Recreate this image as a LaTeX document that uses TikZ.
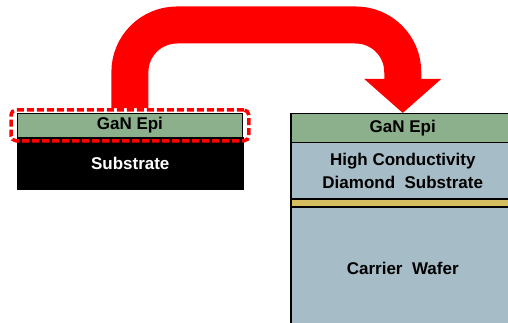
\documentclass[tikz,border=0pt]{standalone}
\usepackage{fontspec}
\setmainfont{Liberation Sans}
\usetikzlibrary{arrows.meta,positioning,fit}
\definecolor{epigreen}{RGB}{140,176,140}
\definecolor{diamondblue}{RGB}{166,188,198}
\definecolor{bondgold}{RGB}{212,190,96}

\begin{document}
\begin{tikzpicture}[
    x=1pt, y=-1pt,
    layer/.style = {rectangle, draw=black, line width=1.5pt, inner sep=0pt, anchor=north west, align=center, font=\fontsize{17}{23}\selectfont\bfseries},
    dashbox/.style = {draw=red, line width=3.5pt, dash pattern=on 7pt off 3pt, rounded corners=5pt, inner xsep=6pt, inner ysep=3pt},
    bigarrow/.style = {draw=red, line width=37pt, rounded corners=47pt, -{Triangle[width=75pt,length=34pt]}}
]
    \useasboundingbox (0,0) rectangle (508,323);
    \clip (0,0) rectangle (508,323);

    % Nodes
    \node [layer, fill=black, text=white, minimum width=225pt, minimum height=51pt] (sub) at (17,137) {Substrate};
    \node [layer, fill=epigreen, line width=0.8pt, minimum width=225pt, minimum height=24pt] (lepi) at (17,113) {GaN Epi};
    \node [dashbox, fit=(lepi)] (sel) {};

    \node [layer, fill=epigreen, minimum width=224pt, minimum height=29pt] (repi) at (290,113) {GaN Epi};
    \node [layer, fill=diamondblue, minimum width=224pt, minimum height=56pt] (dia) at (290,142) {High Conductivity\\Diamond\ \ Substrate};
    \node [layer, fill=bondgold, minimum width=224pt, minimum height=8pt] (bond) at (290,198) {};
    \node [layer, fill=diamondblue, minimum width=224pt, minimum height=124pt] (carrier) at (290,206) {Carrier\ \ Wafer};

    % Edges
    \path [bigarrow] (sel.north) |- ([yshift=88pt]repi.north) -- (repi.north);
\end{tikzpicture}
\end{document}
